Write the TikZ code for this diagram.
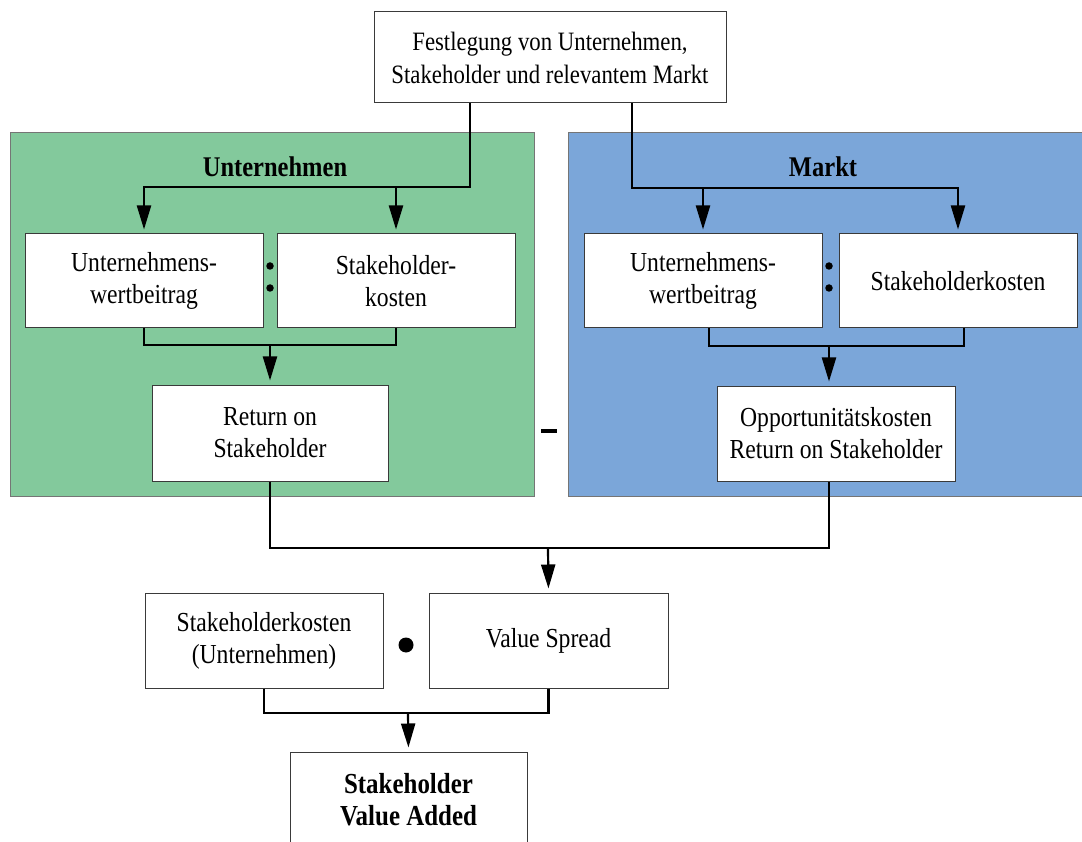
\documentclass[tikz,border=0pt]{standalone}
\usepackage{fontspec}
\setmainfont{Liberation Serif}[FakeStretch=0.86]
\usetikzlibrary{arrows.meta,calc}
\definecolor{pgreen}{HTML}{83C99C}
\definecolor{pblue}{HTML}{7BA6D9}
\definecolor{bordergray}{HTML}{3A3A3A}
\tikzset{
  box/.style={draw=bordergray, line width=1pt, fill=white, align=center, inner sep=0pt,
    font=\fontsize{27.5}{32}\selectfont},
  panel/.style={draw=bordergray!70, line width=1pt, inner sep=0pt},
  title/.style={font=\fontsize{28.5}{32}\selectfont\bfseries},
  conn/.style={line width=2.2pt, black},
  arr/.style={conn, -{Triangle[length=24pt,width=14pt]}, shorten >=4pt},
  dot/.style={circle, fill=black, inner sep=0pt, minimum size=#1}
}
\begin{document}
\begin{tikzpicture}[x=1pt,y=-1pt]
\useasboundingbox (0,0) rectangle (1082,842);
\clip (0,0) rectangle (1082,842);
\fill[white] (0,0) rectangle (1082,842);
% panels
\node[panel, fill=pgreen, minimum width=524pt, minimum height=363pt] (gpanel) at (272,314.5) {};
\node[panel, fill=pblue, minimum width=524pt, minimum height=363pt] (bpanel) at (830,314.5) {};
\node[title] (tU) at (275,167) {Unternehmen};
\node[title] (tM) at (823,167) {Markt};
% boxes
\node[box, minimum width=352pt, minimum height=91pt, font=\fontsize{26.5}{33}\selectfont] (top) at (550,57.5) {Festlegung von Unternehmen,\\Stakeholder und relevantem Markt};
\node[box, minimum width=238pt, minimum height=94pt] (b1) at (144,281) {Unternehmens-\\wertbeitrag};
\node[box, minimum width=238pt, minimum height=94pt] (b2) at (396,281) {Stakeholder-\\kosten};
\node[box, minimum width=238pt, minimum height=94pt] (b3) at (703,281) {Unternehmens-\\wertbeitrag};
\node[box, minimum width=238pt, minimum height=94pt] (b4) at (958,281) {Stakeholderkosten};
\node[box, minimum width=236pt, minimum height=96pt] (ret) at (270,433) {Return on\\Stakeholder};
\node[box, minimum width=238pt, minimum height=95pt] (opp) at (836,433.5) {Opportunitätskosten\\Return on Stakeholder};
\node[box, minimum width=238pt, minimum height=95pt] (sk) at (264,640.5) {Stakeholderkosten\\(Unternehmen)};
\node[box, minimum width=239pt, minimum height=95pt] (vs) at (548.5,640.5) {Value Spread};
\node[box, minimum width=237pt, minimum height=95pt, font=\fontsize{29}{32}\selectfont\bfseries] (final) at (408.5,799.5) {Stakeholder\\Value Added};
% operators
\node[dot=7.5pt] (c1a) at (270,266) {};
\node[dot=7.5pt] (c1b) at (270,288) {};
\node[dot=7.5pt] (c2a) at (829,266) {};
\node[dot=7.5pt] (c2b) at (829,288) {};
\node[fill=black, minimum width=16pt, minimum height=4.5pt, inner sep=0pt] (minus) at (549,431) {};
\node[dot=15pt] (mul) at (406,645) {};
% connectors
\coordinate (jL) at (470,187);
\coordinate (jR) at (632,188);
\draw[arr] (top.south -| jL) -- (jL) -| (b1.north);
\draw[arr] (jL -| b2) -- (b2.north);
\draw[arr] (top.south -| jR) -- (jR) -| (b4.north);
\draw[arr] (jR -| b3) -- (b3.north);
\coordinate (mL) at (270,345);
\draw[conn] (b1.south) |- (mL) -| (b2.south);
\draw[arr] (mL) -- (ret.north);
\coordinate (mR) at (829,346);
\coordinate (mR1) at (709,346);
\coordinate (mR2) at (964,346);
\draw[conn] (b3.south -| mR1) -- (mR1) -- (mR2) -- (b4.south -| mR2);
\draw[arr] (mR) -- (opp.north -| mR);
\coordinate (m2) at (548,548);
\draw[conn] (ret.south) |- (m2) -| (opp.south -| mR);
\draw[arr] (m2) -- (vs.north);
\coordinate (m3) at (408,713);
\draw[conn] (sk.south) |- (m3) -| (vs.south);
\draw[arr] (m3) -- (final.north);
\end{tikzpicture}
\end{document}
